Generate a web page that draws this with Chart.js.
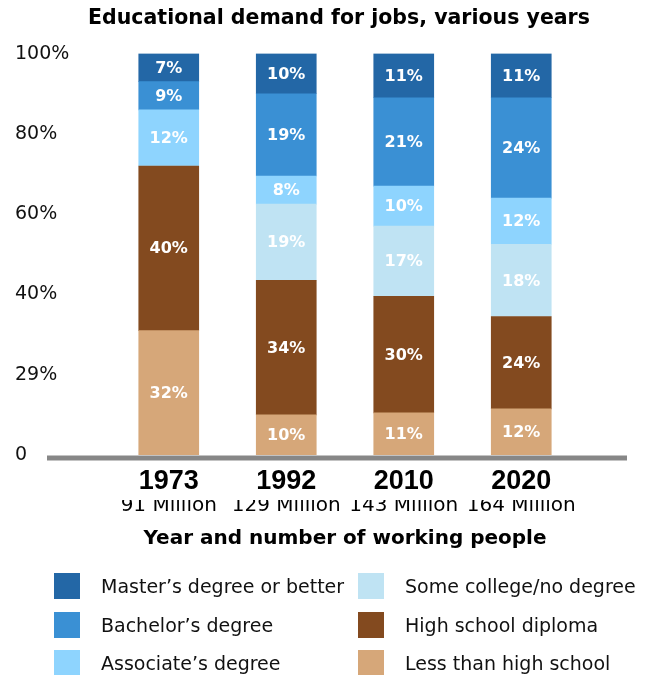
<!DOCTYPE html>
<html>
<head>
<meta charset="utf-8">
<script src="https://cdn.jsdelivr.net/npm/chart.js@4/dist/chart.umd.min.js"></script>
<style>
    body { margin: 0; background: #fff; }
    #wrap { position: relative; width: 663px; height: 675px; }
    .legend-item { position: absolute; font-family: "DejaVu Sans", sans-serif; font-size: 19px; color: #111; }
    .legend-item span.box { position: absolute; width: 26px; height: 26px; }
    .legend-item span.txt { position: absolute; white-space: nowrap; line-height: 26px; }
</style>
</head>
<body>
<div id="wrap">
    <canvas id="barChart" width="663" height="675"></canvas>
    <div id="legend"></div>
</div>
<script>
// Categories and axis texts
const years = ['1973', '1992', '2010', '2020'];
const workers = ['91 Million', '129 Million', '143 Million', '164 Million'];
const yTickLabels = ['0', '29%', '40%', '60%', '80%', '100%'];

// Segment heights as drawn (share of each bar, %)
const lessThanHS = [31, 10, 10.5, 11.5];
const highSchool = [41, 33.5, 29, 23];
const someCollege = [0, 19, 17.5, 18];
const associate = [14, 7, 10, 11.5];
const bachelor = [7, 20.5, 22, 25];
const master = [7, 10, 11, 11];

// Percentages printed on the segments
const lessThanHSLabels = [32, 10, 11, 12];
const highSchoolLabels = [40, 34, 30, 24];
const someCollegeLabels = [0, 19, 17, 18];
const associateLabels = [12, 8, 10, 12];
const bachelorLabels = [9, 19, 21, 24];
const masterLabels = [7, 10, 11, 11];

const seriesNames = ['Less than high school', 'High school diploma', 'Some college/no degree',
    'Associate\u2019s degree', 'Bachelor\u2019s degree', 'Master\u2019s degree or better'];
const seriesColors = ['#d6a779', '#834a1f', '#bfe3f3', '#8ed4fe', '#3a90d4', '#2367a6'];
const seriesValues = [lessThanHS, highSchool, someCollege, associate, bachelor, master];
const seriesLabels = [lessThanHSLabels, highSchoolLabels, someCollegeLabels, associateLabels, bachelorLabels, masterLabels];

// Thick grey baseline that runs past the plot area
const baselinePlugin = {
    id: 'baseline',
    afterDatasetsDraw(chart) {
        const ctx = chart.ctx;
        const y0 = chart.scales.y.getPixelForValue(0);
        ctx.save();
        ctx.fillStyle = '#878787';
        ctx.fillRect(47, y0 + 0.5, 580, 5);
        ctx.restore();
    }
};

// White percentage labels inside the segments
const segmentLabelPlugin = {
    id: 'segmentLabels',
    afterDatasetsDraw(chart) {
        const ctx = chart.ctx;
        ctx.save();
        ctx.fillStyle = '#fff';
        ctx.font = 'bold 16px "DejaVu Sans"';
        ctx.textAlign = 'center';
        ctx.textBaseline = 'middle';
        chart.data.datasets.forEach((ds, i) => {
            const meta = chart.getDatasetMeta(i);
            meta.data.forEach((bar, j) => {
                const v = seriesLabels[i][j];
                if (!v) return;
                ctx.fillText(v + '%', bar.x, (bar.y + bar.base) / 2 + 1);
            });
        });
        ctx.restore();
    }
};

new Chart(document.getElementById('barChart'), {
    type: 'bar',
    data: {
        labels: years,
        datasets: seriesValues.map((vals, i) => ({
            label: seriesNames[i],
            data: vals,
            backgroundColor: seriesColors[i],
            borderWidth: 0,
            barThickness: 60
        }))
    },
    options: {
        responsive: false,
        animation: false,
        devicePixelRatio: 1,
        layout: {
            padding: { left: 15, right: 0, top: 0, bottom: 124 }
        },
        plugins: {
            legend: { display: false },
            tooltip: { enabled: false },
            title: {
                display: true,
                text: 'Educational demand for jobs, various years',
                color: '#000',
                font: { family: 'DejaVu Sans', weight: 'bold', size: 20.5 },
                padding: { top: 6, bottom: 23 }
            }
        },
        scales: {
            x: {
                stacked: true,
                grid: { display: false },
                border: { display: false },
                ticks: {
                    color: '#000',
                    padding: 5,
                    maxRotation: 0,
                    minRotation: 0,
                    autoSkip: false,
                    font: { family: 'Liberation Sans', weight: 'bold', size: 27, lineHeight: 1.0 }
                }
            },
            x2: {
                type: 'category',
                labels: workers,
                position: 'bottom',
                grid: { display: false },
                border: { display: false },
                ticks: {
                    color: '#000',
                    padding: -12,
                    maxRotation: 0,
                    minRotation: 0,
                    autoSkip: false,
                    font: { family: 'DejaVu Sans', size: 20, lineHeight: 1.0 }
                },
                title: {
                    display: true,
                    text: 'Year and number of working people',
                    color: '#000',
                    font: { family: 'DejaVu Sans', weight: 'bold', size: 20 },
                    padding: { top: 23, bottom: 0 }
                }
            },
            y: {
                stacked: true,
                min: 0,
                max: 100,
                grid: { display: false },
                border: { display: false },
                afterFit(scale) { scale.width = 95; },
                ticks: {
                    stepSize: 20,
                    crossAlign: 'far',
                    color: '#111',
                    font: { family: 'DejaVu Sans', size: 19 },
                    callback: (value, index) => yTickLabels[index]
                }
            },
            yRight: {
                position: 'right',
                grid: { display: false },
                border: { display: false },
                ticks: { display: false },
                afterFit(scale) { scale.width = 83; }
            }
        }
    },
    plugins: [baselinePlugin, segmentLabelPlugin]
});

// Legend: two columns, three rows
const legendOrder = [5, 4, 3, 2, 1, 0];
const legendEl = document.getElementById('legend');
legendOrder.forEach((s, k) => {
    const col = Math.floor(k / 3);
    const row = k % 3;
    const item = document.createElement('div');
    item.className = 'legend-item';
    item.style.left = (col === 0 ? 54 : 358) + 'px';
    item.style.top = [573, 612, 650][row] + 'px';
    item.innerHTML = '<span class="box" style="background:' + seriesColors[s] + '"></span>' +
        '<span class="txt" style="left:47px">' + seriesNames[s] + '</span>';
    legendEl.appendChild(item);
});
</script>
</body>
</html>
